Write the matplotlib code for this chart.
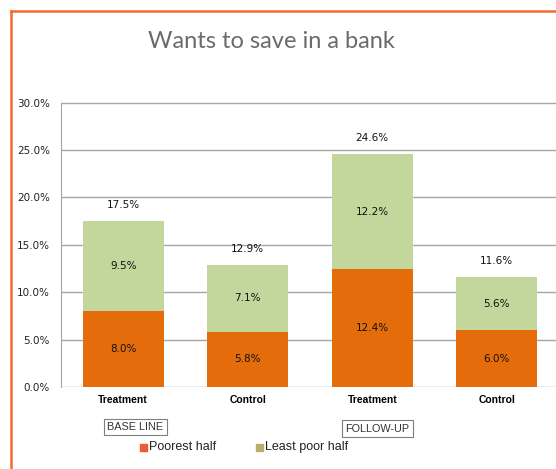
import numpy as np
import matplotlib.pyplot as plt
from matplotlib.lines import Line2D
from matplotlib.patches import Rectangle

# 数据
groups = ['Treatment', 'Control', 'Treatment', 'Control']
poorest = [8.0, 5.8, 12.4, 6.0]
least_poor = [9.5, 7.1, 12.2, 5.6]
totals = [17.5, 12.9, 24.6, 11.6]
period_labels = ['BASE LINE', 'FOLLOW-UP']
series_names = ['Poorest half', 'Least poor half']

W, H = 556, 469
fig = plt.figure(figsize=(W / 100, H / 100), dpi=100)
fig.patch.set_facecolor('white')

# 外框（橙色，左边和上边）
fig.add_artist(Line2D([11 / W, 11 / W], [0, 1 - 11 / H], transform=fig.transFigure,
                      color='#F26A2E', lw=1.8))
fig.add_artist(Line2D([11 / W, 1], [1 - 11 / H, 1 - 11 / H], transform=fig.transFigure,
                      color='#F26A2E', lw=1.8))

# 绘图区
left, right, top, bottom = 61, 559, 102.5, 387
ax = fig.add_axes([left / W, 1 - bottom / H, (right - left) / W, (bottom - top) / H])

x = np.arange(len(groups))
bw = 0.65
ax.bar(x, poorest, bw, color='#E46C0A', zorder=2)
ax.bar(x, least_poor, bw, bottom=poorest, color='#C3D69B', zorder=2)

for i in range(len(groups)):
    ax.text(x[i], poorest[i] / 2, f'{poorest[i]:.1f}%', ha='center', va='center',
            fontsize=7.5, color='#111111')
    ax.text(x[i], poorest[i] + least_poor[i] / 2, f'{least_poor[i]:.1f}%', ha='center',
            va='center', fontsize=7.5, color='#111111')
    ax.text(x[i], totals[i] + 1.7, f'{totals[i]:.1f}%', ha='center', va='center',
            fontsize=7.5, color='#111111')

ax.set_xlim(-0.5, 3.5)
ax.set_ylim(0, 30)
ax.set_yticks(np.arange(0, 31, 5))
ax.set_yticklabels([f'{v:.1f}%' for v in np.arange(0, 31, 5)], fontsize=7.5, color='#222222')
ax.set_xticks(x)
ax.set_xticklabels(groups, fontsize=7.5, fontweight='bold', family='Liberation Sans')
ax.tick_params(axis='x', length=0, pad=6)
ax.tick_params(axis='y', length=0, pad=8)
ax.yaxis.grid(True, color='#A6A6A6', lw=1, zorder=0)
ax.set_axisbelow(True)
for s in ['top', 'right', 'bottom']:
    ax.spines[s].set_visible(False)
ax.spines['left'].set_color('#A6A6A6')

# 标题
fig.text(271 / W, 1 - 42 / H, 'Wants to save in a bank', ha='center', va='center',
         fontsize=17, family='Lato', color='#6B6B6B')

# 分组标签框
for label, cx, cy in [(period_labels[0], 135.5, 427), (period_labels[1], 377.5, 428.5)]:
    fig.text(cx / W, 1 - cy / H, label, ha='center', va='center', fontsize=7.8,
             family='Liberation Sans', color='#333333',
             bbox=dict(boxstyle='square,pad=0.3', fc='white', ec='#7F7F7F', lw=0.8))

# 图例
for name, color, sx in [(series_names[0], '#F05A28', 140), (series_names[1], '#B5B06A', 256)]:
    fig.add_artist(Rectangle((sx / W, 1 - 451 / H), 7 / W, 7 / H, transform=fig.transFigure,
                             color=color))
    fig.text((sx + 9) / W, 1 - 447 / H, name, ha='left', va='center', fontsize=9,
             family='Liberation Sans', color='#222222')

fig.savefig('out.png', dpi=100)
